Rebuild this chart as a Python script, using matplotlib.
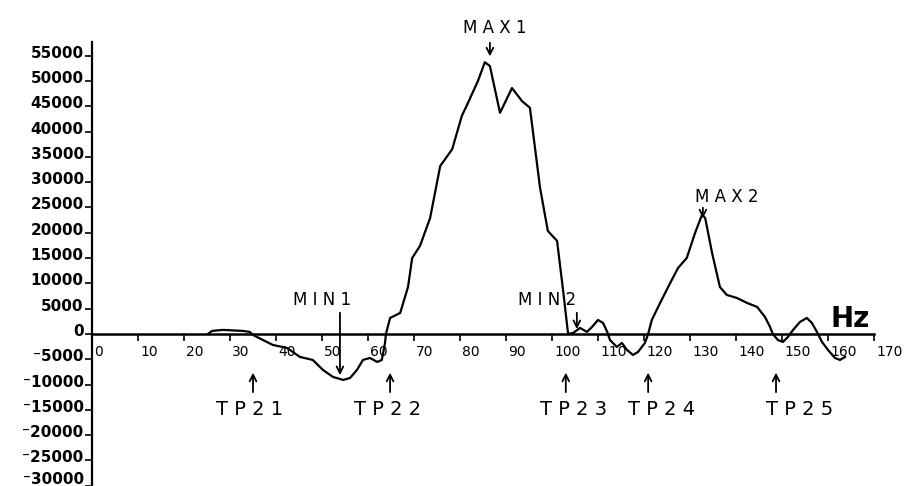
import matplotlib
matplotlib.use("Agg")
import matplotlib.pyplot as plt
import matplotlib.transforms as mtransforms

# ---- data ----
freq = [25.2, 26.1, 28.5, 32.8, 34.3, 35.0, 39.3, 42.4, 45.2, 48.0, 50.2, 52.4, 54.6,
        56.1, 57.6, 58.9, 60.4, 62.0, 63.0, 63.7, 63.9, 64.8, 67.0, 68.7, 69.6, 71.3,
        73.5, 75.7, 78.3, 80.4, 81.7, 83.9, 85.4, 86.5, 88.7, 91.3, 93.5, 95.2, 97.4,
        99.1, 101.1, 102.4, 103.5, 104.6, 106.1, 107.6, 108.7, 110.0, 111.1, 112.0,
        112.6, 114.1, 115.2, 116.3, 117.6, 118.7, 120.2, 120.9, 121.7, 123.5, 125.7,
        127.4, 129.3, 131.1, 132.6, 133.3, 134.8, 136.5, 138.0, 140.2, 142.4, 144.6,
        146.3, 147.4, 148.0, 149.1, 150.2, 151.3, 152.4, 153.9, 155.4, 156.5, 157.6,
        158.7, 160.0, 161.5, 162.6, 163.7]
amp = [0, 600, 800, 600, 400, -200, -2170, -2770, -4540, -5140, -7110, -8500, -9090,
       -8700, -7110, -5140, -4740, -5530, -5140, -1780, 0, 3160, 4150, 9290, 15000, 17400,
       22900, 33200, 36500, 43100, 45600, 50000, 53700, 52950, 43700, 48600, 46000, 44700, 28900,
       20350, 18400, 8700, 0, 200, 1190, 400, 1380, 2770, 2170, 400,
       -1190, -2570, -1780, -3160, -4150, -3560, -1780, 0, 2770, 6130, 10080,
       13040, 15020, 19960, 23520, 22920, 16010, 9290, 7710, 7110, 6130, 5340,
       3360, 1380, 0, -1190, -1580, -590, 790, 2370, 3160, 2170, 400,
       -1580, -3160, -4740, -5140, -4540]

xticks = list(range(0, 171, 10))
yticks = list(range(-30000, 55001, 5000))

peak_names = ["MAX1", "MAX2", "MIN1", "MIN2"]
peak_x = [86.5, 132.8, 53.9, 105.4]
peak_text_x = [87.6, 138.0, 50.0, 98.9]

tp_names = ["TP21", "TP22", "TP23", "TP24", "TP25"]
tp_x = [35.0, 64.8, 103.0, 120.9, 148.7]
tp_text_x = [34.3, 64.3, 104.6, 123.9, 153.9]

# ---- figure ----
W, H = 909, 486
fig = plt.figure(figsize=(W / 100, H / 100), dpi=100)
ax = fig.add_axes([92 / W, 0.0 / H, 782 / W, 444 / H])
ax.set_xlim(0, 170)
ax.set_ylim(-30050, 57700)

for s in ["top", "right"]:
    ax.spines[s].set_visible(False)
ax.spines["bottom"].set_position(("data", 0))
ax.spines["left"].set_linewidth(1.6)
ax.spines["bottom"].set_linewidth(1.8)

ax.plot(freq, amp, color="black", lw=1.6, solid_joinstyle="round")

ax.set_xticks(xticks)
ax.set_xticklabels([str(t) for t in xticks], fontsize=10, ha="left")
ax.tick_params(axis="x", direction="out", length=5, width=1.2, pad=3)

def ylab(v):
    if v < 0:
        return "\u207b" + str(-v)
    return str(v)

ax.set_yticks(yticks)
ax.set_yticklabels([ylab(v) for v in yticks], fontsize=11, fontweight="bold")
ax.tick_params(axis="y", direction="out", length=5, width=1.2, pad=1)

# x labels just right of their ticks, y labels sitting on their ticks
xoff = mtransforms.ScaledTranslation(2 / 100, 0, fig.dpi_scale_trans)
for lab in ax.get_xticklabels():
    lab.set_transform(lab.get_transform() + xoff)
ylabels = ax.get_yticklabels()
for i, lab in enumerate(ylabels):
    dy = 8 if i == 0 else 4
    lab.set_transform(lab.get_transform() +
                      mtransforms.ScaledTranslation(0, dy / 100, fig.dpi_scale_trans))

arrow_kw = dict(arrowstyle="->", lw=1.3, color="black", mutation_scale=12)

# peak annotations (values in data units, from the picture)
peak_text_y = [60470, 27070, 6720, 6720]
peak_tail_y = [58100, 25490, 4740, 4740]
peak_head_y = [54300, 22300, -8690, 400]
for name, x, tx, ty, t0, t1 in zip(peak_names, peak_x, peak_text_x, peak_text_y,
                                   peak_tail_y, peak_head_y):
    ax.text(tx, ty, " ".join(name), ha="center", va="center", fontsize=12,
            clip_on=False)
    ax.annotate("", xy=(x, t1), xytext=(x, t0), arrowprops=arrow_kw,
                annotation_clip=False)

for name, x, tx in zip(tp_names, tp_x, tp_text_x):
    ax.annotate("", xy=(x, -7100), xytext=(x, -12050), arrowprops=arrow_kw,
                annotation_clip=False)
    ax.text(tx, -14900, " ".join(name), ha="center", va="center", fontsize=14,
            clip_on=False)

ax.text(164.8, 2900, "Hz", ha="center", va="center", fontsize=20,
        fontweight="bold", clip_on=False)

fig.savefig("out.png", dpi=100)
